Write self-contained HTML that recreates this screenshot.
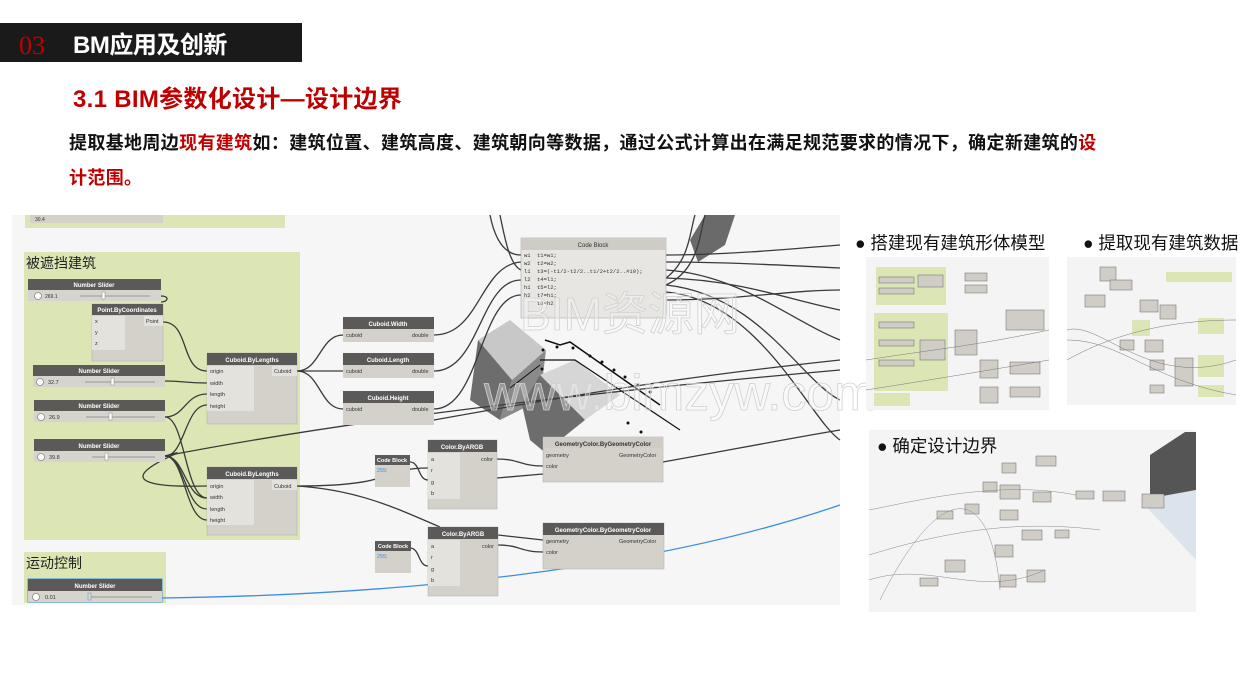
<!DOCTYPE html>
<html><head><meta charset="utf-8"><style>
html,body{margin:0;padding:0;background:#fff;width:1247px;height:700px;overflow:hidden;position:relative;font-family:"Liberation Sans","Noto Sans CJK SC",sans-serif}
.bar{position:absolute;left:0;top:23px;width:302px;height:39px;background:#1a1a1a}
.n03{position:absolute;left:19px;top:31px;color:#c00000;font-family:"Liberation Serif",serif;font-size:26px;line-height:30px}
.bt{position:absolute;left:73px;top:31px;color:#fff;font-weight:bold;font-size:24px;line-height:30px;letter-spacing:-0.5px}
.tt{position:absolute;left:73px;top:84px;color:#c00000;font-weight:bold;font-size:24px;line-height:32px;letter-spacing:0.3px}
.p{position:absolute;left:69px;top:126px;width:1100px;font-weight:bold;font-size:18px;line-height:35px;color:#111;letter-spacing:0.35px;white-space:nowrap}
.r{color:#c00000}
svg{position:absolute;left:0;top:0}
</style></head><body>
<div class="bar"></div><div class="n03">03</div><div class="bt">BM应用及创新</div>
<div class="tt">3.1 BIM参数化设计—设计边界</div>
<div class="p">提取基地周边<span class="r">现有建筑</span>如：建筑位置、建筑高度、建筑朝向等数据，通过公式计算出在满足规范要求的情况下，确定新建筑的<span class="r">设</span><br><span class="r">计范围。</span></div>
<svg width="1247" height="700" viewBox="0 0 1247 700" font-family="Liberation Sans, Noto Sans CJK SC, sans-serif">
<rect x="12" y="215" width="828" height="390" fill="#f6f6f6"/>
<rect x="25" y="215" width="260" height="13" fill="#dce6b4"/>
<rect x="30" y="215" width="133" height="8" fill="#d4d1ca"/>
<text x="35" y="221" font-size="5" fill="#333">30.4</text>
<rect x="24" y="252" width="276" height="288" fill="#dce6b4"/>
<text x="26" y="268" font-size="14" fill="#222">被遮挡建筑</text>
<rect x="24" y="552" width="142" height="51" fill="#dce6b4"/>
<text x="26" y="568" font-size="14" fill="#222">运动控制</text>
<polygon points="705,215 735,215 725,245 698,262 690,240" fill="#6a6a6a"/>
<polygon points="478,340 510,320 546,350 512,380" fill="#c8c8c8"/>
<polygon points="478,340 512,380 500,420 470,400" fill="#6d6d6d"/>
<polygon points="512,380 546,350 540,400 500,420" fill="#8a8a8a"/>
<polygon points="540,375 575,360 620,395 585,420" fill="#d6d6d6"/>
<polygon points="522,405 540,375 585,420 560,440 560,465 530,440" fill="#6d6d6d"/>
<polyline points="545,340 560,345 570,342 660,405" stroke="#111" fill="none" stroke-width="1.5"/>
<polyline points="540,360 565,360 575,360 680,430" stroke="#111" fill="none" stroke-width="1.2"/>
<line x1="510" y1="388" x2="540" y2="365" stroke="#111"/>
<g fill="#111"><circle cx="557" cy="347" r="1.5"/><circle cx="573" cy="348" r="1.5"/><circle cx="590" cy="356" r="1.5"/><circle cx="602" cy="362" r="1.5"/><circle cx="614" cy="370" r="1.5"/><circle cx="625" cy="377" r="1.5"/><circle cx="638" cy="385" r="1.5"/><circle cx="650" cy="392" r="1.5"/><circle cx="543" cy="350" r="1.5"/><circle cx="542" cy="369" r="1.5"/><circle cx="628" cy="423" r="1.5"/><circle cx="641" cy="432" r="1.5"/></g>
<g stroke="#3a3a3a" stroke-width="1.3" fill="none">
<path d="M161,296 C170,296 168,302 161,302"/>
<path d="M163,322 C190,322 180,371 207,371"/>
<path d="M165,381 C185,381 185,383 207,383"/>
<path d="M165,417 C185,417 185,394 207,394"/>
<path d="M165,456 C185,456 185,405 207,405"/>
<path d="M165,456 C185,456 185,498 207,498"/>
<path d="M165,456 C185,456 185,509 207,509"/>
<path d="M165,456 C185,456 185,520 207,520"/>
<path d="M165,456 C220,440 60,490 207,486"/>
<path d="M165,417 C185,417 185,498 207,498"/>
<path d="M165,456 C300,430 500,400 840,370"/>
<path d="M297,371 C320,371 320,335 343,335"/>
<path d="M297,371 L343,371"/>
<path d="M297,371 C320,371 320,409 343,409"/>
<path d="M297,486 C400,486 380,468 428,468"/>
<path d="M297,486 C360,490 400,510 440,527"/>
<path d="M434,335 C480,335 480,265 521,262"/>
<path d="M434,371 C480,371 480,280 521,280"/>
<path d="M434,409 C480,409 480,295 521,295"/>
<path d="M434,420 C600,390 700,375 840,360"/>
<path d="M490,215 C495,240 505,255 521,255"/>
<path d="M500,215 C505,240 510,265 521,270"/>
<path d="M410,462 C420,462 418,480 428,480"/>
<path d="M410,548 C420,548 418,566 428,566"/>
<path d="M497,459 C520,459 520,466 543,466"/>
<path d="M497,478 L543,474"/>
<path d="M498,545 C520,545 520,552 543,552"/>
<path d="M498,535 L543,540"/>
<path d="M663,462 C720,452 780,440 840,430"/>
<path d="M666,255 C720,255 780,250 840,245"/><path d="M666,262 C720,262 780,265 840,268"/>
<path d="M666,270 C740,275 790,320 840,340"/><path d="M666,278 C740,280 790,300 840,310"/>
<path d="M666,285 C760,295 800,380 840,400"/><path d="M666,292 C760,300 810,420 840,440"/>
<path d="M666,300 C740,300 790,290 840,290"/><path d="M666,285 C700,270 700,230 705,215"/>
<path d="M666,278 C690,260 690,230 695,215"/>
</g>
<path d="M162,598 C400,595 650,570 840,505" stroke="#3a8ee0" stroke-width="1.3" fill="none"/>
<g font-size="5.5" fill="#333">
<g><rect x="28" y="279" width="133" height="11" fill="#5c5a58"/><text x="94" y="287" fill="#fff" text-anchor="middle" font-weight="bold" font-size="6">Number Slider</text><rect x="28" y="290" width="133" height="11" fill="#d7d4cd"/><circle cx="38" cy="296" r="3.5" fill="#fff" stroke="#666" stroke-width=".6"/><text x="45" y="298" font-size="5">269.1</text><line x1="80" y1="296" x2="150" y2="296" stroke="#999"/><rect x="102" y="292" width="3" height="7" fill="#fff" stroke="#888" stroke-width=".5"/></g>
<rect x="33" y="365" width="132" height="11" fill="#5c5a58"/><text x="99" y="373" fill="#fff" text-anchor="middle" font-weight="bold" font-size="6">Number Slider</text><rect x="33" y="376" width="132" height="11" fill="#d7d4cd"/><circle cx="40" cy="382" r="3.5" fill="#fff" stroke="#666" stroke-width=".6"/><text x="48" y="384">32.7</text><line x1="85" y1="382" x2="155" y2="382" stroke="#999"/><rect x="111" y="378" width="3" height="7" fill="#fff" stroke="#888" stroke-width=".5"/>
<rect x="34" y="400" width="131" height="11" fill="#5c5a58"/><text x="99" y="408" fill="#fff" text-anchor="middle" font-weight="bold" font-size="6">Number Slider</text><rect x="34" y="411" width="131" height="11" fill="#d7d4cd"/><circle cx="41" cy="417" r="3.5" fill="#fff" stroke="#666" stroke-width=".6"/><text x="49" y="419">26.9</text><line x1="86" y1="417" x2="155" y2="417" stroke="#999"/><rect x="109" y="413" width="3" height="7" fill="#fff" stroke="#888" stroke-width=".5"/>
<rect x="34" y="439" width="131" height="12" fill="#5c5a58"/><text x="99" y="448" fill="#fff" text-anchor="middle" font-weight="bold" font-size="6">Number Slider</text><rect x="34" y="451" width="131" height="11" fill="#d7d4cd"/><circle cx="41" cy="457" r="3.5" fill="#fff" stroke="#666" stroke-width=".6"/><text x="49" y="459">39.8</text><line x1="92" y1="457" x2="155" y2="457" stroke="#999"/><rect x="105" y="453" width="3" height="7" fill="#fff" stroke="#888" stroke-width=".5"/>
<rect x="28" y="579" width="134" height="23" fill="none" stroke="#3a8ee0"/>
<rect x="28" y="579" width="134" height="12" fill="#5c5a58"/><text x="95" y="588" fill="#fff" text-anchor="middle" font-weight="bold" font-size="6">Number Slider</text><rect x="28" y="591" width="134" height="11" fill="#d7d4cd"/><circle cx="36" cy="597" r="3.5" fill="#fff" stroke="#666" stroke-width=".6"/><text x="45" y="599">0.01</text><line x1="88" y1="597" x2="152" y2="597" stroke="#999"/><rect x="88" y="593" width="3" height="7" fill="#cde" stroke="#888" stroke-width=".5"/>
<rect x="92" y="304" width="71" height="57" fill="#d4d1ca" stroke="#aaa" stroke-width=".5"/><rect x="92" y="304" width="71" height="11" fill="#5c5a58"/><text x="127" y="312" fill="#fff" text-anchor="middle" font-weight="bold" font-size="6">Point.ByCoordinates</text>
<rect x="92" y="316" width="33" height="34" fill="#e4e2dd"/><text x="95" y="323">x</text><text x="95" y="334">y</text><text x="95" y="345">z</text><rect x="144" y="316" width="19" height="10" fill="#e4e2dd"/><text x="146" y="323">Point</text>
<g><rect x="207" y="353" width="90" height="71" fill="#d4d1ca" stroke="#aaa" stroke-width=".5"/><rect x="207" y="353" width="90" height="12" fill="#5c5a58"/><text x="252" y="362" fill="#fff" text-anchor="middle" font-weight="bold" font-size="6">Cuboid.ByLengths</text><rect x="207" y="366" width="47" height="45" fill="#e4e2dd"/><text x="210" y="373">origin</text><text x="210" y="385">width</text><text x="210" y="396">length</text><text x="210" y="408">height</text><rect x="272" y="366" width="25" height="10" fill="#e4e2dd"/><text x="274" y="373">Cuboid</text></g>
<g><rect x="207" y="467" width="90" height="68" fill="#d4d1ca" stroke="#aaa" stroke-width=".5"/><rect x="207" y="467" width="90" height="12" fill="#5c5a58"/><text x="252" y="476" fill="#fff" text-anchor="middle" font-weight="bold" font-size="6">Cuboid.ByLengths</text><rect x="207" y="480" width="47" height="45" fill="#e4e2dd"/><text x="210" y="488">origin</text><text x="210" y="499">width</text><text x="210" y="511">length</text><text x="210" y="522">height</text><rect x="272" y="480" width="25" height="10" fill="#e4e2dd"/><text x="274" y="488">Cuboid</text></g>
<rect x="343" y="317" width="91" height="25" fill="#d4d1ca"/><rect x="343" y="317" width="91" height="12" fill="#5c5a58"/><text x="388" y="326" fill="#fff" text-anchor="middle" font-weight="bold" font-size="6">Cuboid.Width</text><text x="346" y="337">cuboid</text><text x="412" y="337">double</text>
<rect x="343" y="353" width="91" height="25" fill="#d4d1ca"/><rect x="343" y="353" width="91" height="12" fill="#5c5a58"/><text x="388" y="362" fill="#fff" text-anchor="middle" font-weight="bold" font-size="6">Cuboid.Length</text><text x="346" y="373">cuboid</text><text x="412" y="373">double</text>
<rect x="343" y="391" width="91" height="34" fill="#d4d1ca"/><rect x="343" y="391" width="91" height="12" fill="#5c5a58"/><text x="388" y="400" fill="#fff" text-anchor="middle" font-weight="bold" font-size="6">Cuboid.Height</text><text x="346" y="411">cuboid</text><text x="412" y="411">double</text>
<rect x="521" y="238" width="145" height="80" fill="#e8e6e2" stroke="#aaa" stroke-width=".6"/><rect x="521" y="238" width="145" height="12" fill="#cfccc6"/><text x="593" y="247" text-anchor="middle" font-size="6">Code Block</text>
<g font-family="Liberation Mono, monospace" font-size="5.5"><text x="524" y="257">w1</text><text x="524" y="265">w2</text><text x="524" y="273">l1</text><text x="524" y="281">l2</text><text x="524" y="289">h1</text><text x="524" y="297">h2</text>
<text x="537" y="257">t1=w1;</text><text x="537" y="265">t2=w2;</text><text x="537" y="273">t3=(-t1/2-t2/2..t1/2+t2/2..#10);</text><text x="537" y="281">t4=l1;</text><text x="537" y="289">t5=l2;</text><text x="537" y="297">t7=h1;</text><text x="537" y="305">t8=h2;</text></g>
<rect x="375" y="455" width="35" height="32" fill="#d4d1ca"/><rect x="375" y="455" width="35" height="10" fill="#5c5a58"/><text x="392" y="462" fill="#fff" text-anchor="middle" font-weight="bold" font-size="5.5">Code Block</text><text x="377" y="472" fill="#3a8ee0">255;</text>
<rect x="375" y="541" width="36" height="32" fill="#d4d1ca"/><rect x="375" y="541" width="36" height="10" fill="#5c5a58"/><text x="393" y="548" fill="#fff" text-anchor="middle" font-weight="bold" font-size="5.5">Code Block</text><text x="377" y="558" fill="#3a8ee0">255;</text>
<rect x="428" y="440" width="69" height="69" fill="#d4d1ca" stroke="#aaa" stroke-width=".5"/><rect x="428" y="440" width="69" height="12" fill="#5c5a58"/><text x="462" y="449" fill="#fff" text-anchor="middle" font-weight="bold" font-size="6">Color.ByARGB</text><rect x="428" y="453" width="32" height="46" fill="#e4e2dd"/><text x="431" y="461">a</text><text x="431" y="472">r</text><text x="431" y="484">g</text><text x="431" y="495">b</text><text x="481" y="461">color</text>
<rect x="428" y="527" width="70" height="69" fill="#d4d1ca" stroke="#aaa" stroke-width=".5"/><rect x="428" y="527" width="70" height="12" fill="#5c5a58"/><text x="463" y="536" fill="#fff" text-anchor="middle" font-weight="bold" font-size="6">Color.ByARGB</text><rect x="428" y="540" width="32" height="46" fill="#e4e2dd"/><text x="431" y="548">a</text><text x="431" y="559">r</text><text x="431" y="571">g</text><text x="431" y="582">b</text><text x="482" y="548">color</text>
<rect x="543" y="437" width="120" height="45" fill="#d4d1ca" stroke="#aaa" stroke-width=".5"/><rect x="543" y="437" width="120" height="11" fill="#cfccc6"/><text x="603" y="446" text-anchor="middle" font-weight="bold" font-size="6">GeometryColor.ByGeometryColor</text><text x="546" y="457">geometry</text><text x="546" y="468">color</text><text x="619" y="457">GeometryColor</text>
<rect x="543" y="523" width="121" height="46" fill="#d4d1ca" stroke="#aaa" stroke-width=".5"/><rect x="543" y="523" width="121" height="12" fill="#5c5a58"/><text x="603" y="532" fill="#fff" text-anchor="middle" font-weight="bold" font-size="6">GeometryColor.ByGeometryColor</text><text x="546" y="543">geometry</text><text x="546" y="554">color</text><text x="619" y="543">GeometryColor</text>
</g>
<text x="630" y="330" font-size="46" fill="#fff" fill-opacity=".3" stroke="#d0d0d0" stroke-width=".8" text-anchor="middle">BIM资源网</text>
<text x="680" y="410" font-size="50" fill="#fff" fill-opacity=".3" stroke="#d0d0d0" stroke-width=".8" text-anchor="middle">www.bimzyw.com</text>
<g font-size="17.5" fill="#111"><text x="855" y="249">● 搭建现有建筑形体模型</text><text x="1083" y="249">● 提取现有建筑数据</text></g>
<rect x="866" y="257" width="183" height="153" fill="#f4f4f4"/>
<rect x="876" y="267" width="70" height="38" fill="#dce6b4"/><rect x="874" y="313" width="74" height="78" fill="#dce6b4"/><rect x="874" y="393" width="36" height="13" fill="#dce6b4"/>
<g fill="#d0cdc6" stroke="#666" stroke-width=".5"><rect x="879" y="277" width="35" height="6"/><rect x="879" y="288" width="35" height="6"/><rect x="918" y="275" width="25" height="12"/><rect x="965" y="273" width="22" height="8"/><rect x="965" y="285" width="22" height="8"/><rect x="1006" y="310" width="38" height="20"/><rect x="955" y="330" width="22" height="25"/><rect x="920" y="340" width="25" height="20"/><rect x="980" y="360" width="18" height="18"/><rect x="1010" y="362" width="30" height="12"/><rect x="980" y="387" width="18" height="16"/><rect x="1010" y="387" width="30" height="10"/><rect x="879" y="322" width="35" height="6"/><rect x="879" y="340" width="35" height="6"/><rect x="879" y="360" width="35" height="6"/></g>
<rect x="1067" y="257" width="169" height="148" fill="#f4f4f4"/>
<rect x="1166" y="272" width="66" height="10" fill="#dce6b4"/><rect x="1198" y="318" width="26" height="16" fill="#dce6b4"/><rect x="1198" y="355" width="26" height="22" fill="#dce6b4"/><rect x="1198" y="385" width="26" height="12" fill="#dce6b4"/><rect x="1132" y="320" width="18" height="16" fill="#dce6b4"/>
<g fill="#d0cdc6" stroke="#666" stroke-width=".5"><rect x="1100" y="267" width="16" height="14"/><rect x="1110" y="280" width="22" height="10"/><rect x="1085" y="295" width="20" height="12"/><rect x="1140" y="300" width="18" height="12"/><rect x="1160" y="305" width="16" height="14"/><rect x="1120" y="340" width="14" height="10"/><rect x="1145" y="340" width="18" height="12"/><rect x="1175" y="358" width="18" height="28"/><rect x="1150" y="360" width="14" height="10"/><rect x="1150" y="385" width="14" height="8"/></g>
<g stroke="#777" stroke-width=".5" fill="none"><path d="M1067,330 C1100,320 1150,390 1236,360"/><path d="M1067,340 C1120,340 1150,380 1236,395"/><path d="M1067,360 C1120,330 1180,320 1236,320"/><path d="M866,360 C930,350 980,345 1049,330"/><path d="M866,390 C930,380 990,370 1049,360"/></g>
<rect x="869" y="430" width="327" height="182" fill="#f4f4f4"/>
<polygon points="1150,455 1185,432 1196,432 1196,490 1150,500" fill="#555"/><polygon points="1140,500 1196,490 1196,560" fill="#dbe4ec"/>
<text x="877" y="452" font-size="17.5" fill="#111">● 确定设计边界</text>
<g fill="#d0cdc6" stroke="#666" stroke-width=".5"><rect x="1036" y="456" width="20" height="10"/><rect x="1002" y="463" width="14" height="10"/><rect x="983" y="482" width="14" height="10"/><rect x="1000" y="485" width="20" height="14"/><rect x="1033" y="492" width="18" height="10"/><rect x="1076" y="491" width="18" height="8"/><rect x="1103" y="491" width="22" height="10"/><rect x="1142" y="494" width="22" height="14"/><rect x="965" y="504" width="14" height="10"/><rect x="937" y="511" width="16" height="8"/><rect x="1000" y="510" width="18" height="10"/><rect x="995" y="545" width="18" height="12"/><rect x="945" y="560" width="20" height="12"/><rect x="1000" y="575" width="16" height="12"/><rect x="1027" y="570" width="18" height="12"/><rect x="920" y="578" width="18" height="8"/><rect x="1022" y="530" width="20" height="10"/><rect x="1055" y="530" width="14" height="8"/></g>
<g stroke="#888" stroke-width=".5" fill="none"><path d="M869,510 C920,500 1000,480 1076,495"/><path d="M869,555 C950,530 1020,520 1100,530"/><path d="M880,600 C940,480 990,480 1000,590"/><path d="M869,580 C930,560 980,600 1045,570"/></g>
</svg>
</body></html>
